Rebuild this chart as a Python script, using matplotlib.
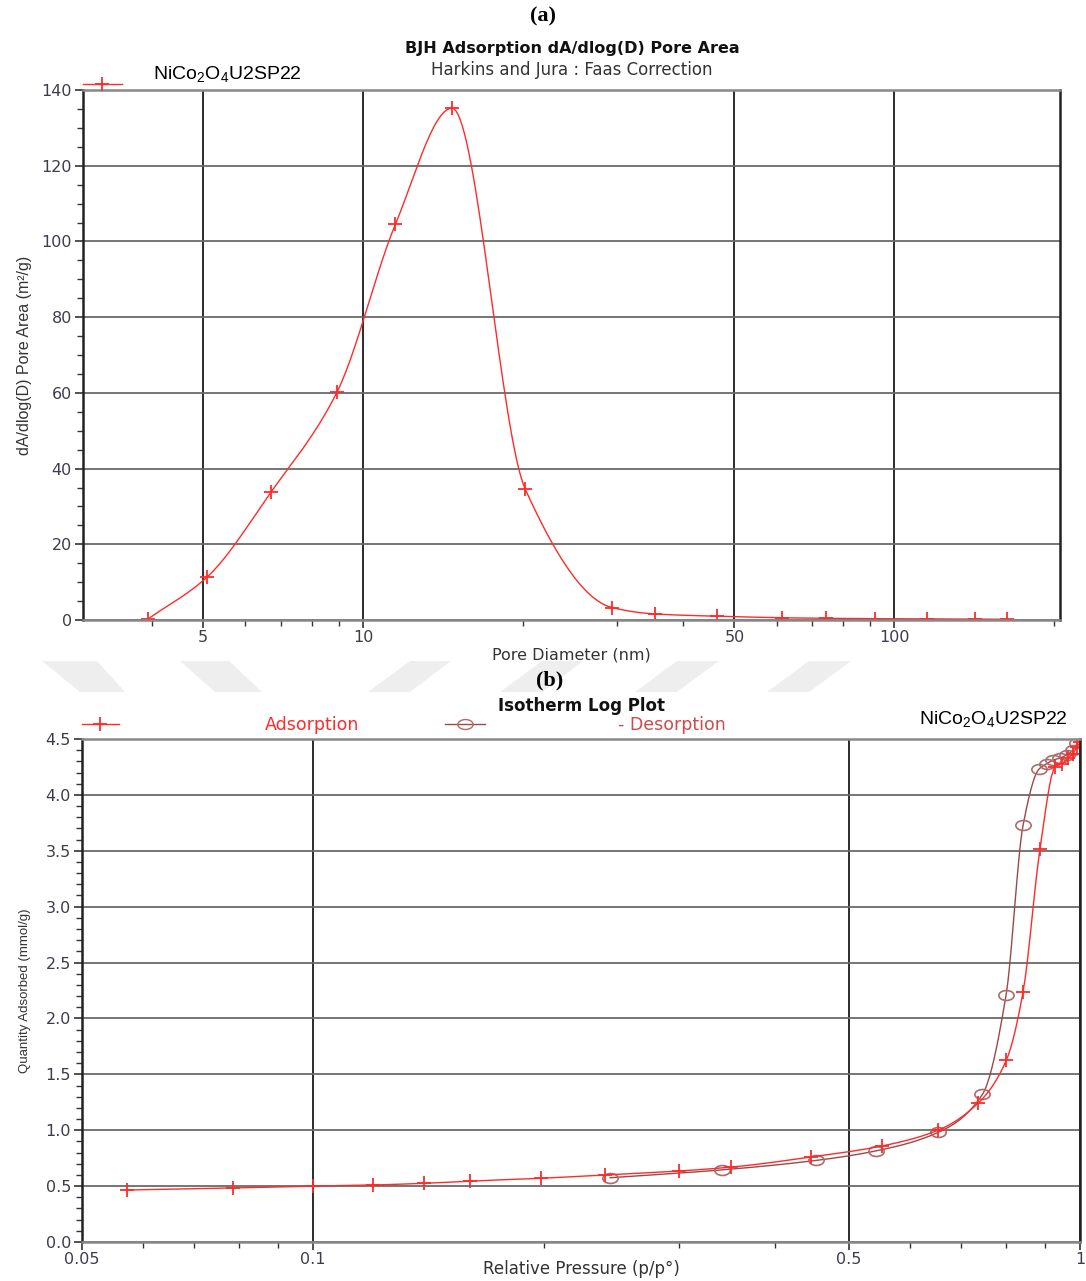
import numpy as np
import matplotlib
matplotlib.use("Agg")
import matplotlib.pyplot as plt
from matplotlib.lines import Line2D
from matplotlib.patches import Polygon
from matplotlib.path import Path
from matplotlib.ticker import FixedLocator, FixedFormatter, NullFormatter

plt.rcParams['font.family'] = ['DejaVu Sans']

# ------------------------------------------------------------
# data
# ------------------------------------------------------------
# (a) BJH pore area distribution
pore_d = [3.94, 5.09, 6.71, 8.93, 11.5, 14.7, 20.2, 29.4, 35.4, 46.3,
          61.4, 74.3, 91.8, 115, 142, 163]
pore_area = [0.3, 11.4, 33.8, 60.2, 104.5, 135.2, 34.5, 3.3, 1.6, 1.0,
             0.6, 0.45, 0.35, 0.3, 0.25, 0.2]

# (b) isotherm
ads_p = [0.0572, 0.0786, 0.100, 0.1197, 0.1395, 0.1602, 0.1983, 0.2402,
         0.2999, 0.3507, 0.4457, 0.5527, 0.653, 0.736, 0.802, 0.843, 0.887,
         0.928, 0.947, 0.965, 0.979, 0.991, 1.0]
ads_q = [0.465, 0.483, 0.50, 0.51, 0.525, 0.545, 0.57, 0.60, 0.635, 0.67,
         0.76, 0.86, 1.00, 1.24, 1.63, 2.24, 3.52, 4.25, 4.28, 4.33, 4.37,
         4.43, 4.47]
des_p = [0.244, 0.341, 0.453, 0.542, 0.653, 0.746, 0.801, 0.843, 0.884,
         0.906, 0.922, 0.942, 0.962, 0.979, 0.991]
des_q = [0.575, 0.645, 0.73, 0.815, 0.98, 1.32, 2.21, 3.73, 4.23, 4.28,
         4.31, 4.33, 4.36, 4.40, 4.46]

sample = r"NiCo$_\mathregular{2}$O$_\mathregular{4}$U2SP22"

RED = "#ff2a2a"
DRED = "#9c4848"
TICKC = "#3c3c4c"
NARROW = ['Liberation Sans']


def pchip(x, y, xn):
    # monotone cubic for drawing a smooth line through the points
    x = np.asarray(x, float); y = np.asarray(y, float)
    h = np.diff(x); d = np.diff(y) / h
    m = np.zeros_like(y)
    m[0], m[-1] = d[0], d[-1]
    for k in range(1, len(x) - 1):
        if d[k - 1] * d[k] > 0:
            w1 = 2 * h[k] + h[k - 1]
            w2 = h[k] + 2 * h[k - 1]
            m[k] = (w1 + w2) / (w1 / d[k - 1] + w2 / d[k])
    i = np.clip(np.searchsorted(x, xn) - 1, 0, len(x) - 2)
    t = (xn - x[i]) / h[i]
    h00 = 2 * t**3 - 3 * t**2 + 1
    h10 = t**3 - 2 * t**2 + t
    h01 = -2 * t**3 + 3 * t**2
    h11 = t**3 - t**2
    return h00 * y[i] + h10 * h[i] * m[i] + h01 * y[i + 1] + h11 * h[i] * m[i + 1]


def smooth(xs, ys, n=400):
    lx = np.log10(xs)
    xn = np.linspace(lx[0], lx[-1], n)
    return 10**xn, pchip(lx, ys, xn)


def style_axes(ax, size):
    for s in ['left', 'right']:
        ax.spines[s].set_color('#222222')
        ax.spines[s].set_linewidth(1.8)
    for s in ['top', 'bottom']:
        ax.spines[s].set_color('#888888')
        ax.spines[s].set_linewidth(1.8)
    ax.tick_params(which='major', direction='out', length=6, width=1.2,
                   color='#333333', labelcolor=TICKC, labelsize=size, pad=2)
    ax.tick_params(which='minor', direction='out', length=4, width=1.0,
                   color='#333333')
    ax.grid(True, axis='y', which='major', color='#6a6a6a', linewidth=1.3)
    ax.grid(True, axis='x', which='major', color='#1a1a1a', linewidth=1.3)
    ax.set_axisbelow(True)


fig = plt.figure(figsize=(10.86, 12.81), dpi=100)

# ============================================================
# (a)
# ============================================================
ax1 = fig.add_axes([83 / 1086, 1 - 620 / 1281, 977 / 1086, 530 / 1281])
sx, sy = smooth(pore_d, pore_area)
ax1.plot(sx, sy, color=RED, linewidth=1.0)
ax1.plot(pore_d, pore_area, linestyle='none', marker='+', markersize=10,
         markeredgewidth=1.3, color=RED)
ax1.set_xscale('log')
ax1.set_xlim(2.97, 205)
ax1.set_ylim(0, 140)
ax1.xaxis.set_major_locator(FixedLocator([5, 10, 50, 100]))
ax1.xaxis.set_major_formatter(FixedFormatter(['5', '10', '50', '100']))
ax1.xaxis.set_minor_locator(FixedLocator([4, 6, 7, 8, 9, 20, 30, 40, 60,
                                          70, 80, 90, 200]))
ax1.xaxis.set_minor_formatter(NullFormatter())
ax1.set_yticks(np.arange(0, 141, 20))
ax1.set_yticks(np.arange(0, 141, 5), minor=True)
style_axes(ax1, 11.5)
ax1.tick_params(axis='x', pad=1)
ax1.set_xlabel("Pore Diameter (nm)", fontsize=11.5, color='#333333', labelpad=2)
ax1.set_ylabel("dA/dlog(D) Pore Area (m²/g)", fontsize=11.5, color='#333333',
               family=NARROW, labelpad=7)

fig.text(572 / 1086, 1 - 49 / 1281, "BJH Adsorption dA/dlog(D) Pore Area",
         ha='center', va='center', fontsize=11.5, fontweight='bold', color='#111111')
fig.text(572 / 1086, 1 - 70 / 1281, "Harkins and Jura : Faas Correction",
         ha='center', va='center', fontsize=12, color='#333333')
fig.text(543 / 1086, 1 - 16 / 1281, "(a)", ha='center', va='center',
         fontsize=16, fontweight='bold', family='Liberation Serif')

h_a = Line2D([], [], color=RED, linewidth=1.0, marker='+', markersize=10,
             markeredgewidth=1.3)
ax1.legend([h_a], [""], loc='center left', bbox_to_anchor=(0.0, 1.008),
           frameon=False, handlelength=2.0, handletextpad=0,
           borderaxespad=0, borderpad=0, prop={'size': 14})
fig.text(153 / 1086, 1 - 75 / 1281, sample, ha='left', va='center',
         fontsize=14, family=NARROW)

# ============================================================
# (b)
# ============================================================
ax2 = fig.add_axes([82 / 1086, 1 - 1242 / 1281, 998 / 1086, 503 / 1281])
ax_, ay_ = smooth(ads_p, ads_q)
dx_, dy_ = smooth(des_p, des_q)
ellipse = Path(Path.unit_circle().vertices * np.array([1.0, 0.65]),
               Path.unit_circle().codes)
ax2.plot(dx_, dy_, color=DRED, linewidth=1.0)
ax2.plot(des_p, des_q, linestyle='none', marker=ellipse, markersize=11,
         markerfacecolor='none', markeredgecolor='#b06a6a', markeredgewidth=1.2)
ax2.plot(ax_, ay_, color=RED, linewidth=1.0)
ax2.plot(ads_p, ads_q, linestyle='none', marker='+', markersize=10,
         markeredgewidth=1.3, color=RED)
ax2.set_xscale('log')
ax2.set_xlim(0.05, 1.0)
ax2.set_ylim(0, 4.5)
ax2.xaxis.set_major_locator(FixedLocator([0.05, 0.1, 0.5, 1.0]))
ax2.xaxis.set_major_formatter(FixedFormatter(['0.05', '0.1', '0.5', '1']))
ax2.xaxis.set_minor_locator(FixedLocator([0.06, 0.07, 0.08, 0.09, 0.2, 0.3,
                                          0.4, 0.6, 0.7, 0.8, 0.9]))
ax2.xaxis.set_minor_formatter(NullFormatter())
ax2.set_yticks(np.arange(0, 4.51, 0.5))
ax2.set_yticklabels([f"{v:.1f}" for v in np.arange(0, 4.51, 0.5)])
ax2.set_yticks(np.arange(0, 4.51, 0.1), minor=True)
style_axes(ax2, 11.5)
ax2.tick_params(axis='x', pad=1)
ax2.set_xlabel("Relative Pressure (p/p°)", fontsize=12, color='#333333')
ax2.xaxis.set_label_coords(0.5, -0.036)
ax2.set_ylabel("Quantity Adsorbed (mmol/g)", fontsize=9.5, color='#333333',
               family=NARROW, labelpad=10)

fig.text(582 / 1086, 1 - 706 / 1281, "Isotherm Log Plot", ha='center',
         va='center', fontsize=12, fontweight='bold', color='#111111')
fig.text(550 / 1086, 1 - 680 / 1281, "(b)", ha='center', va='center',
         fontsize=16, fontweight='bold', family='Liberation Serif')
fig.text(1068 / 1086, 1 - 720 / 1281, sample, ha='right', va='center',
         fontsize=14, family=NARROW)

h_ads = Line2D([], [], color=RED, linewidth=1.0, marker='+', markersize=10,
               markeredgewidth=1.3)
h_des = Line2D([], [], color=DRED, linewidth=1.0, marker=ellipse, markersize=11,
               markerfacecolor='none', markeredgecolor='#b06a6a')
l_a = ax2.legend([h_ads], ["Adsorption"], loc='center left',
                 bbox_to_anchor=(0.0, 1.028), frameon=False,
                 handlelength=2.13, handletextpad=8.4, borderaxespad=0,
                 borderpad=0, labelcolor=RED, prop={'size': 12.5})
ax2.add_artist(l_a)
ax2.legend([h_des], ["- Desorption"], loc='center left',
           bbox_to_anchor=(363 / 998, 1.028), frameon=False,
           handlelength=2.3, handletextpad=7.65, borderaxespad=0,
           borderpad=0, labelcolor='#d04a4a', prop={'size': 12.5})

# faint watermark bands between the panels
bands = [((42, 97), (80, 125)), ((180, 229), (215, 262)),
         ((410, 451), (368, 410)), ((542, 583), (500, 542)),
         ((677, 719), (635, 677)), ((809, 851), (767, 809))]
for (t0, t1), (b0, b1) in bands:
    pts = [(t0, 661), (t1, 661), (b1, 692), (b0, 692)]
    poly = Polygon([(x / 1086, 1 - y / 1281) for x, y in pts], closed=True,
                   transform=fig.transFigure, facecolor='#eeeeee',
                   edgecolor='none', zorder=-5)
    fig.add_artist(poly)

fig.savefig("out.png", dpi=100)
